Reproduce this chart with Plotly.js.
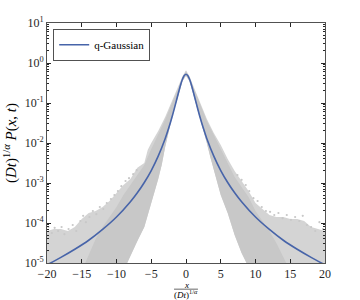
<!DOCTYPE html>
<html><head><meta charset="utf-8">
<script src="https://cdn.plot.ly/plotly-3.0.1.min.js"></script>
<style>html,body{margin:0;padding:0;background:#fff}#chart{width:360px;height:300px}</style>
</head><body><div id="chart"></div>
<script>
// q-Gaussian curve
const curveX = [-20,-18,-16,-14,-12,-10,-8,-7,-6,-5,-4,-3,-2.5,-2,-1.5,-1,-0.75,-0.5,-0.25,0,0.25,0.5,0.75,1,1.5,2,2.5,3,4,5,6,7,8,10,12,14,16,18,20];
const curveP = [9.0e-6,1.38e-5,2.2e-5,3.7e-5,6.9e-5,1.41e-4,3.4e-4,5.7e-4,1.03e-3,2.05e-3,4.7e-3,0.0128,0.0233,0.0454,0.0951,0.205,0.2935,0.397,0.488,0.525,0.488,0.397,0.2935,0.205,0.0951,0.0454,0.0233,0.0128,4.7e-3,2.05e-3,1.03e-3,5.7e-4,3.4e-4,1.41e-4,6.9e-5,3.7e-5,2.2e-5,1.38e-5,9.0e-6];

// grey data cloud: outer envelope (log10 values)
const upperX   = [-20,-19,-18,-17,-16,-15,-14,-13,-12,-11,-10,-9,-8,-7,-6,-5.5,-5,-4,-3,-2,-1,-0.5,0,0.5,1,2,3,4,5,6,7,8,9,10,11,12,13,14,15,16,17,18,19,20];
const upperLog = [-4.2,-4.15,-4.15,-4.2,-4.1,-3.9,-3.75,-3.7,-3.6,-3.45,-3.25,-3.05,-2.9,-2.62,-2.5,-2.17,-2.0,-1.7,-1.35,-0.95,-0.55,-0.33,-0.18,-0.33,-0.55,-0.97,-1.4,-1.75,-2.05,-2.4,-2.7,-2.95,-3.2,-3.5,-3.65,-3.8,-3.85,-3.85,-3.9,-3.9,-3.95,-4.1,-4.15,-4.2];
const lowerX   = [-20,-10,-9,-8,-7,-6,-5.5,-5,-4.5,-4,-3.5,-3,-2,-1,-0.5,0,0.5,1,2,3,3.5,4,4.5,5,6,7,8,9,10,20];
const lowerLog = [-5.6,-5.6,-5.2,-4.8,-4.45,-4.1,-3.85,-3.5,-3.2,-2.9,-2.55,-2.1,-1.35,-0.75,-0.45,-0.32,-0.45,-0.75,-1.35,-2.0,-2.35,-2.7,-3.0,-3.3,-3.75,-4.3,-4.75,-5.1,-5.6,-5.6];
// dense core of the cloud
const coreX    = [-15,-14,-13,-12,-11,-10,-9,-8,-7,-6,-5,-4,-3,-2,-1,0,1,2,3,4,5,6,7,8,9,10,11,12,13,14,15];
const coreLog  = [-5.2,-4.8,-4.4,-4.1,-3.85,-3.6,-3.3,-3.05,-2.8,-2.55,-2.15,-1.78,-1.42,-1.0,-0.58,-0.2,-0.58,-1.02,-1.45,-1.8,-2.15,-2.5,-2.85,-3.1,-3.35,-3.7,-3.95,-4.2,-4.5,-4.85,-5.2];
// scattered points at the ragged upper edge of the tails
const dotX   = [-19.8,-19.3,-18.9,-18.4,-17.9,-17.5,-16.9,-16.3,-15.8,-15.2,-14.8,-14.4,-13.9,-13.4,-12.9,-12.4,-11.9,-11.4,-10.8,-10.3,-9.8,-9.3,-8.7,-8.2,-7.6,-7.1,
                7.4,8.0,8.6,9.1,9.7,10.3,10.9,11.5,12.1,12.7,13.3,13.9,14.5,15.1,15.7,16.3,16.8,17.4,18.0,18.6,19.2,19.7];
const dotLog = [-4.1,-4.25,-4.12,-4.2,-4.1,-4.28,-4.15,-4.05,-4.2,-3.95,-3.82,-3.98,-3.85,-3.7,-3.78,-3.6,-3.65,-3.5,-3.4,-3.3,-3.2,-3.08,-2.95,-2.88,-2.78,-2.68,
                -2.8,-2.92,-3.05,-3.2,-3.38,-3.45,-3.6,-3.7,-3.72,-3.8,-3.75,-3.88,-3.8,-3.92,-3.85,-3.95,-3.82,-4.05,-4.1,-4.2,-3.98,-4.15];

const yTickVals = [1e-5,1e-4,1e-3,1e-2,1e-1,1,10];
const yTickText = ['10<sup>-5</sup>','10<sup>-4</sup>','10<sup>-3</sup>','10<sup>-2</sup>','10<sup>-1</sup>','10<sup>0</sup>','10<sup>1</sup>'];
const xTickVals = [-20,-15,-10,-5,0,5,10,15,20];

const pw = v => Math.pow(10, v);
function polygon(ux, ul, lx, ll) {
  const xs = ux.slice(), ys = ul.map(pw);
  for (let i = lx.length - 1; i >= 0; i--) { xs.push(lx[i]); ys.push(pw(ll[i])); }
  return {xs, ys};
}
const band = polygon(upperX, upperLog, lowerX, lowerLog);
const lowCore = lowerX.filter(x => x >= -15 && x <= 15);
const lowCoreL = lowerLog.filter((v, i) => lowerX[i] >= -15 && lowerX[i] <= 15);
const core = polygon(coreX, coreLog, [-15].concat(lowCore, [15]), [-5.6].concat(lowCoreL, [-5.6]));

const minorVals = [];
for (let e = -5; e < 1; e++) for (let d = 2; d <= 9; d++) minorVals.push(d * Math.pow(10, e));

const axisCol = '#262626';
const serif = 'Liberation Serif';
const traces = [
  {x: band.xs, y: band.ys, mode: 'lines', fill: 'toself', fillcolor: '#d4d4d4', line: {width: 0, color: 'rgba(0,0,0,0)'}, showlegend: false, hoverinfo: 'skip'},
  {x: core.xs, y: core.ys, mode: 'lines', fill: 'toself', fillcolor: '#c8c8c8', line: {width: 0, color: 'rgba(0,0,0,0)'}, showlegend: false, hoverinfo: 'skip'},
  {x: dotX, y: dotLog.map(pw), mode: 'markers', marker: {size: 2.2, color: '#c8c8c8'}, showlegend: false, hoverinfo: 'skip'},
  {x: curveX, y: curveP, mode: 'lines', name: 'q-Gaussian', line: {color: '#4764a9', width: 1.6, shape: 'spline'}}
];
const layout = {
  width: 360, height: 300,
  margin: {l: 47, r: 35, t: 23, b: 37},
  paper_bgcolor: '#fff', plot_bgcolor: '#fff',
  showlegend: true,
  legend: {x: 0.023, y: 0.973, xanchor: 'left', yanchor: 'top', bgcolor: '#fff', bordercolor: axisCol, borderwidth: 0.8,
           font: {family: serif, size: 11, color: '#000'}, itemwidth: 30, tracegroupgap: 0},
  xaxis: {range: [-20, 20], tickmode: 'array', tickvals: xTickVals, ticks: 'inside', ticklen: 4, tickcolor: axisCol,
          showline: true, linecolor: axisCol, linewidth: 0.8, mirror: 'ticks', showgrid: false, zeroline: false,
          tickfont: {family: serif, size: 12, color: axisCol}},
  yaxis: {type: 'log', range: [-5, 1], tickmode: 'array', tickvals: yTickVals, ticktext: yTickText, ticks: 'inside', ticklen: 4,
          tickcolor: axisCol, showline: true, linecolor: axisCol, linewidth: 0.8, mirror: 'ticks', showgrid: false, zeroline: false,
          tickfont: {family: serif, size: 12, color: axisCol},
          title: {text: '(<i>Dt</i>)<sup>1/<i>α</i></sup> <i>P</i>(<i>x</i>, <i>t</i>)', standoff: 4, font: {family: serif, size: 15, color: '#000'}},
          minor: {tickmode: 'array', tickvals: minorVals, ticks: 'inside', ticklen: 2, tickcolor: axisCol, showgrid: false}},
  annotations: [
    {text: '<i>x</i>', xref: 'paper', yref: 'paper', x: 0.5, y: 0, yshift: -22, xanchor: 'center', yanchor: 'middle',
     showarrow: false, font: {family: serif, size: 9, color: '#000'}},
    {text: '(<i>Dt</i>)<sup>1/<i>α</i></sup>', xref: 'paper', yref: 'paper', x: 0.5, y: 0, yshift: -31, xanchor: 'center', yanchor: 'middle',
     showarrow: false, font: {family: serif, size: 9, color: '#000'}}
  ],
  shapes: [
    {type: 'line', xref: 'paper', yref: 'paper', x0: 0.457, x1: 0.543, y0: -0.109, y1: -0.109, line: {color: '#000', width: 0.6}}
  ]
};
Plotly.newPlot('chart', traces, layout, {staticPlot: true, displayModeBar: false});
</script>
</body></html>
